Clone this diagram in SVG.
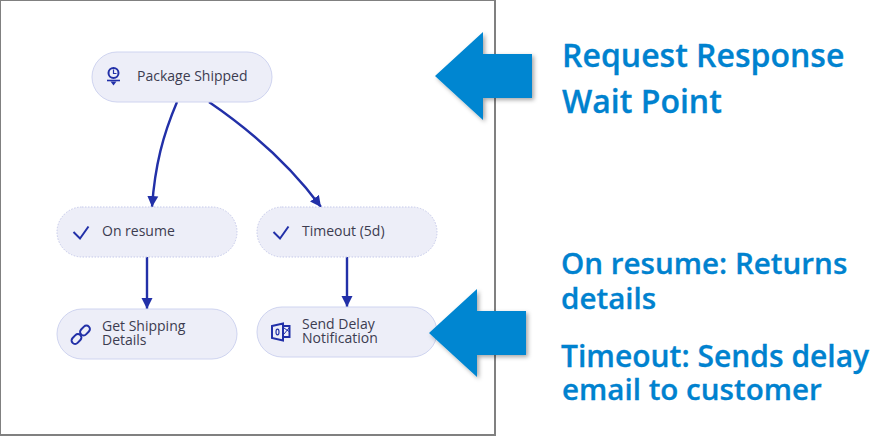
<svg xmlns="http://www.w3.org/2000/svg" width="882" height="436" viewBox="0 0 882 436">
<style>
.n{fill:#edeef8;stroke:#cfd4f0;stroke-width:1}
.d{stroke:#c5c9ea;stroke-dasharray:1.5 1.5}
.t{font:14px "Open Sans",sans-serif;fill:#3c3c50}
.c{fill:none;stroke:#2230a8;stroke-width:2.400}
.i{fill:none;stroke:#2230a8;stroke-width:2}
.h{font:600 29.600px "Open Sans",sans-serif;fill:#0082cf;stroke:#0082cf;stroke-width:.3}
.b{font-size:32px}
.m{font-size:30px}
.a{fill:#0086d1}
</style>
<defs>
<marker id="ah" markerUnits="userSpaceOnUse" markerWidth="13" markerHeight="12" refX="11" refY="6" orient="auto"><path d="M0 0.500L11 6L0 11.500Z" fill="#2230a8"/></marker>
<filter id="sh" x="-10%" y="-10%" width="125%" height="125%"><feDropShadow dx="2" dy="2" stdDeviation="2" flood-color="#000" flood-opacity=".35"/></filter>
</defs>
<rect width="882" height="436" fill="#fff"/>
<rect x="0" y="0" width="495" height="435" fill="#fff" stroke="#808080" stroke-width="2"/>
<g id="connectors">
<path class="c" marker-end="url(#ah)" d="M177 102C163 135 155 165 152 207"/>
<path class="c" marker-end="url(#ah)" d="M209 102C250 130 290 165 321 207"/>
<path class="c" marker-end="url(#ah)" d="M147 257V309"/>
<path class="c" marker-end="url(#ah)" d="M347 257V307"/>
</g>
<g id="package-shipped">
<rect class="n" x="92" y="52" width="180" height="50" rx="25"/>
<circle class="i" cx="113.500" cy="73" r="5"/>
<path d="M113.500 69.500V73.500H116.500" fill="none" stroke="#2230a8" stroke-width="1.200"/>
<path d="M107 80.500H120" fill="none" stroke="#2230a8" stroke-width="1.600"/>
<path d="M110.500 81.500H116.500L113.500 85.500Z" fill="#2230a8"/>
<text class="t" x="137" y="81">Package Shipped</text>
</g>
<g id="on-resume">
<rect class="n d" x="57" y="207" width="180" height="50" rx="25"/>
<path class="i" d="M73.500 232L80 238.500L88.500 226.500"/>
<text class="t" x="102" y="236">On resume</text>
</g>
<g id="timeout">
<rect class="n d" x="257" y="207" width="180" height="50" rx="25"/>
<path class="i" d="M273.500 232L280 238.500L288.500 226.500"/>
<text class="t" x="302" y="236">Timeout (5d)</text>
</g>
<g id="get-shipping-details">
<rect class="n" x="57" y="309" width="180" height="50" rx="25"/>
<rect class="i" x="-5.500" y="-3.500" width="11" height="7" rx="3.500" stroke-width="2.400" transform="translate(76.500 339) rotate(-45)"/>
<rect class="i" x="-5.500" y="-3.500" width="11" height="7" rx="3.500" stroke-width="2.400" transform="translate(85 330.500) rotate(-45)"/>
<text class="t"><tspan x="102" y="331">Get Shipping</tspan><tspan x="102" y="345">Details</tspan></text>
</g>
<g id="send-delay-notification">
<rect class="n" x="257" y="307" width="180" height="50" rx="25"/>
<path d="M272 326L283 323.500V340.500L272 338Z" fill="none" stroke="#2230a8" stroke-width="2"/>
<path d="M283 326H289.500V337H283" fill="none" stroke="#2230a8" stroke-width="2"/>
<path d="M284 328L289 331.500M289 328L284 334" fill="none" stroke="#2230a8" stroke-width="1"/>
<ellipse cx="277.500" cy="332" rx="1.500" ry="2.800" fill="none" stroke="#2230a8" stroke-width="1.200"/>
<text class="t"><tspan x="302" y="329">Send Delay</tspan><tspan x="302" y="343">Notification</tspan></text>
</g>
<path class="a" filter="url(#sh)" d="M435 76L483 32V54H532V98H483V120Z"/>
<path class="a" filter="url(#sh)" d="M429 333L477 289V311H526V355H477V377Z"/>
<text class="h b" x="562" y="67">Request Response</text>
<text class="h b" x="562" y="113">Wait Point</text>
<text class="h" x="561" y="274">On resume: Returns</text>
<text class="h" x="561" y="309">details</text>
<text class="h m" x="561" y="367">Timeout: Sends delay</text>
<text class="h" x="562" y="400">email to customer</text>
</svg>
